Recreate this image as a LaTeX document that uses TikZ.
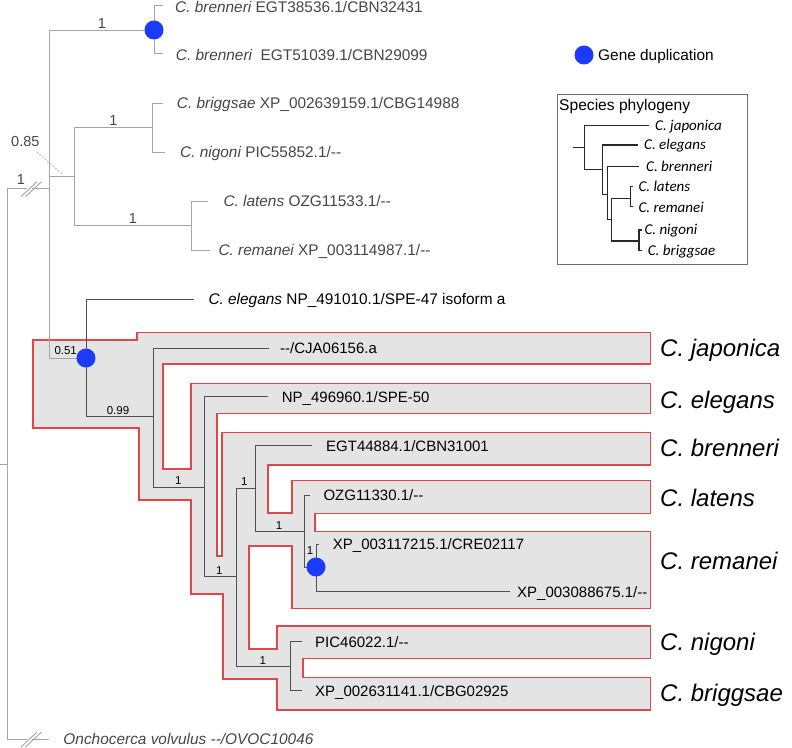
\documentclass[tikz,border=0pt]{standalone}
\usepackage{fontspec}
\newfontfamily\lsans{Liberation Sans}
\newfontfamily\carl{Carlito}
\newcommand\dd{-\kern0pt-}
\definecolor{treegray}{RGB}{165,165,165}
\definecolor{treedark}{RGB}{80,80,80}
\definecolor{insetline}{RGB}{40,40,40}
\definecolor{labgray}{RGB}{70,70,70}
\definecolor{boxfill}{RGB}{228,228,228}
\definecolor{boxred}{RGB}{222,72,72}
\definecolor{dupblue}{RGB}{28,58,250}
\definecolor{frameg}{RGB}{110,110,110}
\begin{document}
\begin{tikzpicture}[x=1bp,y=-1bp,
  gl/.style={draw=treegray,line width=0.9bp},
  dl/.style={draw=treedark,line width=0.9bp},
  il/.style={draw=insetline,line width=1.5bp},
  glab/.style={inner sep=0pt,anchor=west,text height=11bp,text depth=0pt,text=labgray,font=\lsans\fontsize{15.4bp}{18bp}\selectfont},
  dlab/.style={inner sep=0pt,anchor=west,text height=10.7bp,text depth=0pt,text=black,font=\lsans\fontsize{15bp}{18bp}\selectfont},
  splab/.style={inner sep=0pt,anchor=west,text height=17.2bp,text depth=0pt,text=black,font=\lsans\itshape\fontsize{24bp}{28bp}\selectfont},
  gsup/.style={inner sep=0pt,text height=10.4bp,text depth=0pt,text=labgray,font=\lsans\fontsize{14.5bp}{17bp}\selectfont},
  dsup/.style={inner sep=0pt,text height=8.2bp,text depth=0pt,text=black,font=\lsans\fontsize{11.5bp}{14bp}\selectfont},
  ilab/.style={inner sep=0pt,anchor=west,text height=9.5bp,text depth=0pt,text=black,font=\carl\itshape\fontsize{15bp}{18bp}\selectfont},
  dupdot/.style={circle,fill=dupblue,inner sep=0pt,minimum size=19bp}]
\useasboundingbox (0,0) rectangle (792,748);

% shaded SPE-47/50 region
\filldraw[fill=boxfill,draw=boxred,line width=1.2bp,line join=miter]
 (33,340) -- (137,340) -- (137,332.3) -- (650.7,332.3) -- (650.7,364) -- (163,364) -- (163,469) -- (191,469) -- (191,383.3) -- (650.7,383.3) -- (650.7,413.3) -- (217,413.3) -- (217,556) -- (222,556) -- (222,432.3) -- (650.7,432.3) -- (650.7,465) -- (268,465) -- (268,513) -- (292,513) -- (292,480.7) -- (650.7,480.7) -- (650.7,513.3) -- (315,513.3) -- (315,531.3) -- (650.7,531.3) -- (650.7,608.7) -- (292,608.7) -- (292,546) -- (249,546) -- (249,649) -- (277,649) -- (277,626) -- (650.7,626) -- (650.7,658.7) -- (303,658.7) -- (303,677.3) -- (650.7,677.3) -- (650.7,710) -- (277,710) -- (277,679) -- (223,679) -- (223,594) -- (191,594) -- (191,500) -- (139,500) -- (139,428) -- (33,428) -- cycle;

% ---------- coordinates of the gene tree ----------
\coordinate (rs) at (0,464);
\coordinate (r0) at (7.3,464);
\coordinate (rA) at (7.3,188.3);
\coordinate (bA1) at (27,188.3);
\coordinate (bA2) at (32,188.3);
\coordinate (nA) at (49.3,188.3);
\coordinate (rO) at (7.3,739);
\coordinate (bO1) at (27,739);
\coordinate (bO2) at (32,739);
\coordinate (tonc) at (49.3,739);
\coordinate (nB) at (154,30);
\coordinate (tb1) at (163.3,5);
\coordinate (tb2) at (163.3,53.3);
\coordinate (n85) at (74,176.7);
\coordinate (nbn) at (152.3,127.7);
\coordinate (tbg) at (163.3,103.3);
\coordinate (tng) at (165,152.3);
\coordinate (nlr) at (191,225.7);
\coordinate (tlt) at (208.3,201);
\coordinate (trm) at (210,250);
\coordinate (n51) at (86,358);
\coordinate (tel47) at (194,299);
\coordinate (n99) at (153.3,416.7);
\coordinate (tjap) at (269,348.3);
\coordinate (n1a) at (204.3,487.3);
\coordinate (tel50) at (268.3,396.7);
\coordinate (n1b) at (236,576.7);
\coordinate (n1c) at (255,488.3);
\coordinate (tbren) at (311.7,445.7);
\coordinate (n1d) at (304.3,531.7);
\coordinate (tlat) at (310,495);
\coordinate (ndup) at (316,567);
\coordinate (trem1) at (319.3,544);
\coordinate (trem2) at (510,591.7);
\coordinate (n1e) at (290,666);
\coordinate (tnig) at (301.7,641.7);
\coordinate (tbrig) at (301.7,690.7);

% gray part
\draw[gl] (rs) -- (r0);
\draw[gl] (r0) -- (rA) -- (bA1);
\draw[gl] (bA2) -- (nA);
\draw[gl] (r0) -- (rO) -- (bO1);
\draw[gl] (bO2) -- (tonc);
\draw[gl] (21,196.7) -- (37,181.7);
\draw[gl] (25.5,196.7) -- (41.5,181.7);
\draw[gl] (21,747) -- (37,732);
\draw[gl] (25.5,747) -- (41.5,732);
\draw[gl] (nA) |- (nB);
\draw[gl] (nA) |- (n85);
\draw[gl] (nA) |- (n51);
\draw[gl] (nB) |- (tb1);
\draw[gl] (nB) |- (tb2);
\draw[gl] (n85) |- (nbn);
\draw[gl] (n85) |- (nlr);
\draw[gl] (nbn) |- (tbg);
\draw[gl] (nbn) |- (tng);
\draw[gl] (nlr) |- (tlt);
\draw[gl] (nlr) |- (trm);
\draw[treegray,line width=0.6bp,dash pattern=on 2bp off 1.5bp] (36.7,151.7) -- (63.3,175);

% dark part
\draw[dl] (n51) |- (tel47);
\draw[dl] (n51) |- (n99);
\draw[dl] (n99) |- (tjap);
\draw[dl] (n99) |- (n1a);
\draw[dl] (n1a) |- (tel50);
\draw[dl] (n1a) |- (n1b);
\draw[dl] (n1b) |- (n1c);
\draw[dl] (n1b) |- (n1e);
\draw[dl] (n1c) |- (tbren);
\draw[dl] (n1c) |- (n1d);
\draw[dl] (n1d) |- (tlat);
\draw[dl] (n1d) |- (ndup);
\draw[dl] (ndup) |- (trem1);
\draw[dl] (ndup) |- (trem2);
\draw[dl] (n1e) |- (tnig);
\draw[dl] (n1e) |- (tbrig);

% duplication dots
\node[dupdot] (dB) at (nB) {};
\node[dupdot] (d51) at (n51) {};
\node[dupdot] (ddup) at (ndup) {};

% gray labels
\node[glab] (l1) at (175,7) {\itshape C. brenneri\upshape\ EGT38536.1/CBN32431};
\node[glab] (l2) at (175.7,55.5) {\itshape C. brenneri\upshape\ \ EGT51039.1/CBN29099};
\node[glab] (l3) at (176.7,103.3) {\itshape C. briggsae\upshape\ XP\_002639159.1/CBG14988};
\node[glab] (l4) at (180,152.3) {\itshape C. nigoni\upshape\ PIC55852.1/\dd};
\node[glab] (l5) at (223.3,201) {\itshape C. latens\upshape\ OZG11533.1/\dd};
\node[glab] (l6) at (218.3,250) {\itshape C. remanei\upshape\ XP\_003114987.1/\dd};
\node[glab] (l7) at (63.3,739) {\itshape Onchocerca volvulus \dd/OVOC10046};
\node[gsup] (s1) at (102,23.3) {1};
\node[gsup] (s2) at (113.3,120.5) {1};
\node[gsup] (s3) at (132.8,218.5) {1};
\node[gsup] (s4) at (21,179) {1};
\node[gsup] (s5) at (25.3,141.3) {0.85};

% dark labels
\node[dlab,font=\lsans\fontsize{15.4bp}{18bp}\selectfont] (m1) at (208.3,299.5) {\itshape C. elegans\upshape\ NP\_491010.1/SPE-47 isoform a};
\node[dlab] (m2) at (280,348.3) {\dd/CJA06156.a};
\node[dlab] (m3) at (281.7,396.7) {NP\_496960.1/SPE-50};
\node[dlab] (m4) at (326,445.7) {EGT44884.1/CBN31001};
\node[dlab] (m5) at (323.3,495) {OZG11330.1/\dd};
\node[dlab] (m6) at (332.7,544) {XP\_003117215.1/CRE02117};
\node[dlab,anchor=east] (m7) at (647.5,591.7) {XP\_003088675.1/\dd};
\node[dlab] (m8) at (315,641.7) {PIC46022.1/\dd};
\node[dlab] (m9) at (315,690.7) {XP\_002631141.1/CBG02925};
\node[dsup] (u1) at (65.7,350) {0.51};
\node[dsup] (u2) at (118,410.5) {0.99};
\node[dsup] (u3) at (178.3,480.3) {1};
\node[dsup] (u4) at (219.3,570) {1};
\node[dsup] (u5) at (244.3,481.7) {1};
\node[dsup] (u6) at (262.7,660) {1};
\node[dsup] (u7) at (279,525) {1};
\node[dsup] (u8) at (310,550) {1};

% species labels
\node[splab] (sp1) at (660,348.3) {C. japonica};
\node[splab] (sp2) at (660,399.5) {C. elegans};
\node[splab] (sp3) at (660,448.3) {C. brenneri};
\node[splab] (sp4) at (660,498.3) {C. latens};
\node[splab] (sp5) at (660,561) {C. remanei};
\node[splab] (sp6) at (660,641.7) {C. nigoni};
\node[splab] (sp7) at (660,693.3) {C. briggsae};

% legend
\node[dupdot] (ldot) at (584,55) {};
\node[dlab,font=\lsans\fontsize{15.4bp}{18bp}\selectfont] (ltxt) at (598,55) {Gene duplication};

% inset species phylogeny
\node[draw=frameg,line width=1bp,inner sep=0pt,minimum width=190bp,minimum height=170.3bp,anchor=north west] (frame) at (556.7,94) {};
\node[dlab,font=\lsans\fontsize{15.6bp}{18bp}\selectfont] (ftitle) at (559,105) {Species phylogeny};
\coordinate (is0) at (573.3,147.7);
\coordinate (ir) at (584.3,147.7);
\coordinate (ijap) at (649.3,125.3);
\coordinate (ie) at (602.7,169.3);
\coordinate (iel) at (638.3,145);
\coordinate (ib) at (607.3,194.3);
\coordinate (ibr) at (639.3,166.7);
\coordinate (ic) at (611.7,219.7);
\coordinate (ilr) at (630.7,198.3);
\coordinate (ilt) at (633.3,186.7);
\coordinate (irm) at (633.3,206.7);
\coordinate (ing) at (639,241);
\coordinate (ini) at (641.7,230);
\coordinate (ibg) at (641.7,250.7);
\draw[il] (is0) -- (ir);
\draw[il] (ir) |- (ijap);
\draw[il] (ir) |- (ie);
\draw[il] (ie) |- (iel);
\draw[il] (ie) |- (ib);
\draw[il] (ib) |- (ibr);
\draw[il] (ib) |- (ic);
\draw[il] (ic) |- (ilr);
\draw[il] (ic) |- (ing);
\draw[il] (ilr) |- (ilt);
\draw[il] (ilr) |- (irm);
\draw[il] (ing) |- (ini);
\draw[il] (ing) |- (ibg);
\node[ilab] (i1) at (655,125.3) {C. japonica};
\node[ilab] (i2) at (644,144.5) {C. elegans};
\node[ilab] (i3) at (646,167) {C. brenneri};
\node[ilab] (i4) at (638.3,187) {C. latens};
\node[ilab] (i5) at (638.3,207.5) {C. remanei};
\node[ilab] (i6) at (644.3,230) {C. nigoni};
\node[ilab] (i7) at (647.7,251) {C. briggsae};
\end{tikzpicture}
\end{document}
